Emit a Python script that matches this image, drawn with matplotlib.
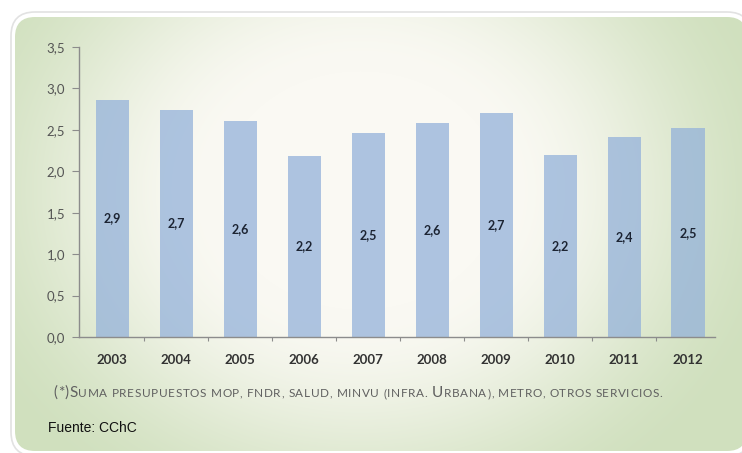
import numpy as np
import matplotlib
matplotlib.use("Agg")
import matplotlib.pyplot as plt
from matplotlib.patches import FancyBboxPatch

plt.rcParams["font.family"] = ["Lato", "DejaVu Sans"]

years = ["2003", "2004", "2005", "2006", "2007", "2008", "2009", "2010", "2011", "2012"]
values = [2.86, 2.74, 2.61, 2.19, 2.46, 2.58, 2.70, 2.20, 2.41, 2.52]
yticks = [0.0, 0.5, 1.0, 1.5, 2.0, 2.5, 3.0, 3.5]

footnote = [("(*)S", "big"),
            ("UMA PRESUPUESTOS MOP, FNDR, SALUD, MINVU (INFRA. ", "small"),
            ("U", "big"),
            ("RBANA), METRO, OTROS SERVICIOS.", "small")]
source = "Fuente: CChC"

W, H = 742, 453
fig = plt.figure(figsize=(W / 100, H / 100), dpi=100)
fig.patch.set_facecolor("white")

# panel background in pixel coordinates
bg = fig.add_axes([0, 0, 1, 1])
bg.set_xlim(0, W)
bg.set_ylim(H, 0)
bg.axis("off")

shadow = FancyBboxPatch((11, 12), 740, 444, boxstyle="round,pad=0,rounding_size=24",
                        facecolor="white", edgecolor="#e2e2e2", lw=1.2)
bg.add_patch(shadow)
panel = FancyBboxPatch((15, 17), 732, 434, boxstyle="round,pad=0,rounding_size=20",
                       facecolor="none", edgecolor="none")
bg.add_patch(panel)

# radial gradient: cream in the middle, soft green at the edges
gx, gy = np.meshgrid(np.arange(W), np.arange(H))
r = np.sqrt(((gx - 360) / 400.0) ** 2 + ((gy - 190) / 340.0) ** 2)
t = np.clip((r - 0.35) / 0.75, 0, 1)
t = t * t * (3 - 2 * t)
c0 = np.array([250, 249, 243]) / 255.0
c1 = np.array([208, 224, 190]) / 255.0
img = c0[None, None, :] * (1 - t[..., None]) + c1[None, None, :] * t[..., None]
im = bg.imshow(img, extent=(0, W, H, 0), origin="upper", zorder=1)
im.set_clip_path(panel)

# chart axes
x0, x1, ytop, ybot = 79, 715, 47, 337
ax = fig.add_axes([x0 / W, 1 - ybot / H, (x1 - x0) / W, (ybot - ytop) / H])
ax.set_facecolor("none")

x = np.arange(len(years))
ax.bar(x, values, width=0.52, color="#94b2da", alpha=0.75, zorder=2)
for xi, v in zip(x, values):
    ax.text(xi, v / 2, f"{v:.1f}".replace(".", ","), ha="center", va="center",
            fontsize=9, fontweight="bold", color="#1c2433", zorder=3)

ax.set_xlim(-0.52, 9.42)
ax.set_ylim(0, 3.5)
ax.set_yticks(yticks)
ax.set_yticklabels([f"{v:.1f}".replace(".", ",") for v in yticks])
ax.set_xticks(x)
ax.set_xticklabels(years, fontweight="bold")
ax.set_xticks(np.arange(0.5, 9, 1), minor=True)

for s in ["top", "right"]:
    ax.spines[s].set_visible(False)
for s in ["left", "bottom"]:
    ax.spines[s].set_color("#8c8c8c")
    ax.spines[s].set_linewidth(1.0)

ax.tick_params(axis="y", length=5, width=0.8, color="#8c8c8c", labelsize=9.5,
               labelcolor="#555555", pad=5)
ax.tick_params(axis="x", which="major", length=0, labelsize=9.5,
               labelcolor="#333333", pad=12)
ax.tick_params(axis="x", which="minor", length=3, width=0.8, color="#8c8c8c")

# footnote in tracked small caps, one glyph at a time on a shared baseline
fig.canvas.draw()
renderer = fig.canvas.get_renderer()


def text_width(s, size):
    probe = fig.text(0, 0, s + "|", fontsize=size, family="Lato")
    bar = fig.text(0, 0, "|", fontsize=size, family="Lato")
    w = probe.get_window_extent(renderer).width - bar.get_window_extent(renderer).width
    probe.remove()
    bar.remove()
    return w


px = 53
track = 0.65
for txt, kind in footnote:
    size = 11 if kind == "big" else 8.5
    for i, ch in enumerate(txt):
        cx = px + text_width(txt[:i], size) + i * track
        fig.text(cx / W, 1 - 397 / H, ch, fontsize=size, color="#606060",
                 family="Lato", ha="left", va="baseline")
    px += text_width(txt, size) + len(txt) * track

fig.text(48 / W, 1 - 428 / H, source, fontsize=10, family="Liberation Sans",
         color="#111111", ha="left", va="center")

fig.savefig("out.png", dpi=100)
plt.close(fig)
